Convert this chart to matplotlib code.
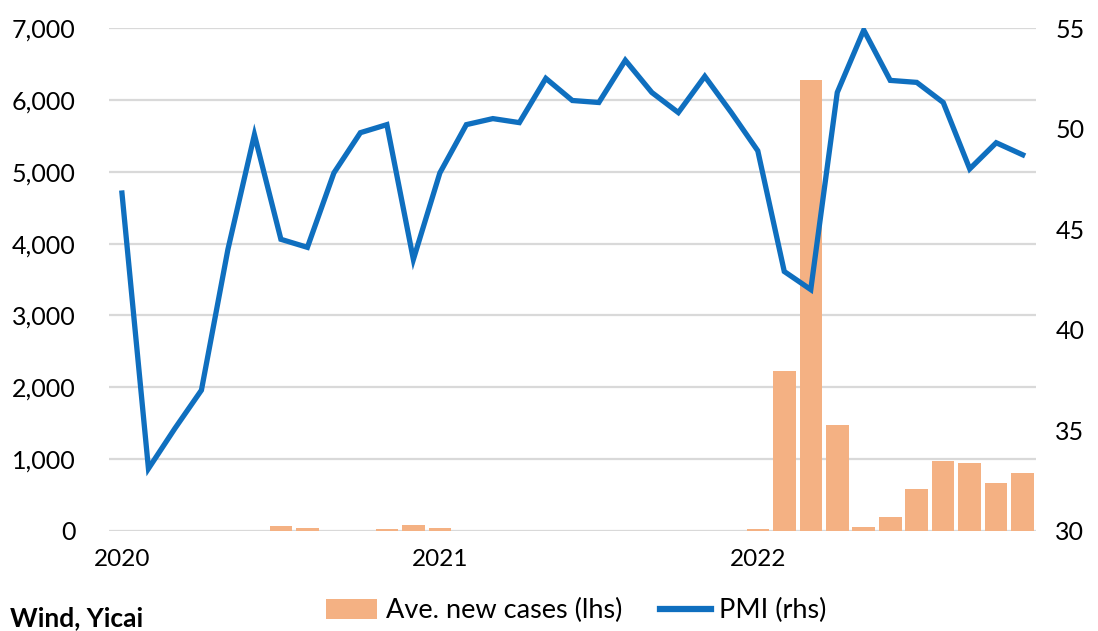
import matplotlib
matplotlib.use("Agg")
import matplotlib.pyplot as plt
import numpy as np
from matplotlib.patches import Patch
from matplotlib.lines import Line2D

plt.rcParams['font.family'] = ['Lato', 'DejaVu Sans']

months = list(range(35))  # Jan 2020 .. Nov 2022
tick_pos = [0, 12, 24]
tick_labels = ["2020", "2021", "2022"]

pmi = [46.8, 33.1, 35.1, 37.0, 44.0, 49.7, 44.5, 44.1, 47.8, 49.8, 50.2, 43.5,
       47.8, 50.2, 50.5, 50.3, 52.5, 51.4, 51.3, 53.4, 51.8, 50.8, 52.6, 50.8,
       48.9, 42.9, 42.0, 51.8, 54.9, 52.4, 52.3, 51.3, 48.0, 49.3, 48.7]

cases = [0, 0, 0, 0, 0, 0, 70, 45, 0, 0, 25, 85,
         45, 0, 0, 0, 0, 0, 0, 0, 0, 0, 0, 0,
         30, 2220, 6280, 1470, 50, 200, 580, 970, 950, 670, 810]

blue = "#0F6FBF"
orange = "#F4B183"
grid = "#D9D9D9"

fig = plt.figure(figsize=(10.98, 6.31), dpi=100)
ax = fig.add_axes([0.099, 0.1585, 0.8445, 0.797])
ax2 = ax.twinx()

ax.bar(months, cases, width=0.85, color=orange, zorder=2)
ax.set_ylim(0, 7000)
ax.set_yticks(range(0, 7001, 1000))
ax.set_yticklabels([f"{v:,}" for v in range(0, 7001, 1000)])
ax.yaxis.grid(True, color=grid, linewidth=1.6, zorder=0)
ax.set_axisbelow(True)
ax.set_xlim(-0.5, 34.5)
ax.set_xticks(tick_pos)
ax.set_xticklabels(tick_labels)

ax2.plot(months, pmi, color=blue, linewidth=3.8, solid_joinstyle='miter', zorder=3)
ax2.set_ylim(30, 55)
ax2.set_yticks(range(30, 56, 5))

for a in (ax, ax2):
    for s in a.spines.values():
        s.set_visible(False)
    a.tick_params(length=0, labelsize=18, colors="#000000")
ax.tick_params(axis='x', labelsize=17.5)
ax.tick_params(axis='y', pad=24)
ax.tick_params(axis='x', pad=13)
ax2.tick_params(axis='y', pad=14)

handles = [Patch(facecolor=orange, edgecolor='none'),
           Line2D([0], [0], color=blue, linewidth=4.5)]
fig.legend(handles, ["Ave. new cases (lhs)", "PMI (rhs)"], loc='center',
           bbox_to_anchor=(0.525, 0.032), ncol=2, frameon=False, fontsize=19.5,
           handlelength=1.9, handleheight=0.75, handletextpad=0.3, columnspacing=1.4)

fig.text(0.009, 0.02, "Wind, Yicai", fontsize=19, fontweight='bold', va='center', ha='left')

fig.savefig("out.png", dpi=100)
